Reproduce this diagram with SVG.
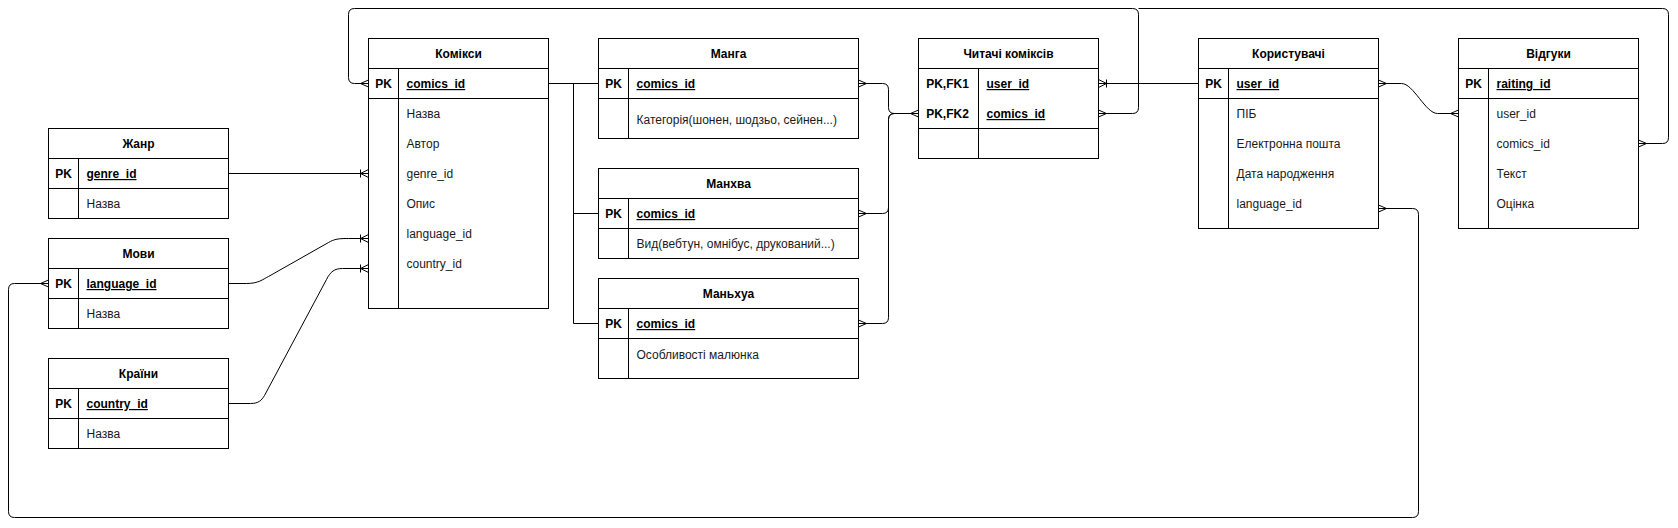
<svg xmlns="http://www.w3.org/2000/svg" width="1678" height="528" viewBox="0 0 1678 528">
<style>
.bx{fill:#fff;stroke:#000;stroke-width:1}
.sl{fill:none;stroke:#000;stroke-width:1}
.ln{fill:none;stroke:#000;stroke-width:1}
text{font-family:"Liberation Sans",Arial,Helvetica,sans-serif;font-size:12px;fill:#000}
.h{font-weight:bold;text-anchor:middle}
.k{font-weight:bold;text-anchor:middle}
.pk{font-weight:bold;text-decoration:underline}
.f{fill:#1a1a1a}
</style>
<defs>
<marker id="many" viewBox="-10 -5 12 10" refX="0" refY="0" markerWidth="12" markerHeight="10" markerUnits="userSpaceOnUse" orient="auto-start-reverse" overflow="visible">
<path d="M0,-3.5 L-8,0 L0,3.5" fill="none" stroke="#000" stroke-width="1"/>
</marker>
<marker id="oneMany" viewBox="-10 -5 12 10" refX="0" refY="0" markerWidth="12" markerHeight="10" markerUnits="userSpaceOnUse" orient="auto-start-reverse" overflow="visible">
<path d="M0,-4 L-8,0 L0,4 M-8,-4 V4" fill="none" stroke="#000" stroke-width="1"/>
</marker>
</defs>
<rect width="1678" height="528" fill="#fff"/>
<g transform="translate(0.5,0.5)">

<g id="connectors">
<path class="ln" d="M548,83 H598"/>
<path class="ln" d="M573,83 V323 M573,213 H598 M573,323 H598"/>
<path class="ln" d="M858,83 H882 Q888,83 888,89 V107 Q888,113 894,113 H918" marker-start="url(#many)" marker-end="url(#many)"/>
<path class="ln" d="M858,213 H882 Q888,213 888,207 V119 Q888,113 894,113 H918" marker-start="url(#many)"/>
<path class="ln" d="M858,323 H882 Q888,323 888,317 V119 Q888,113 894,113 H918" marker-start="url(#many)"/>
<path class="ln" d="M1098,113 H1132 Q1138,113 1138,107 V14 Q1138,8 1132,8 H354 Q348,8 348,14 V77 Q348,83 354,83 H368" marker-start="url(#many)" marker-end="url(#many)"/>
<path class="ln" d="M1638,143 H1662 Q1668,143 1668,137 V14 Q1668,8 1662,8 H1138" marker-start="url(#many)"/>
<path class="ln" d="M1098,83 H1198" marker-start="url(#oneMany)"/>
<path class="ln" d="M1378,83 H1401 C1413,83 1425,113 1437,113 H1458" marker-start="url(#many)" marker-end="url(#many)"/>
<path class="ln" d="M1378,208 H1412 Q1418,208 1418,214 V511 Q1418,517 1412,517 H14 Q8,517 8,511 V289 Q8,283 14,283 H48" marker-start="url(#many)" marker-end="url(#many)"/>
<path class="ln" d="M228,173 H368" marker-end="url(#oneMany)"/>
<path class="ln" d="M228,283 H246 C258,283 262,279 268,276 L328,242 C334,238.5 338,238 348,238 H368" marker-end="url(#oneMany)"/>
<path class="ln" d="M228,403 H250 C258,403 261,400 264,395 L326,279 C330,271 334,268 342,268 H368" marker-end="url(#oneMany)"/>
</g>

<g id="zhanr">
<rect class="bx" x="48" y="128" width="180" height="90"/>
<path class="sl" d="M48,158 H228 M48,188 H228 M78,158 V218"/>
<text class="h" x="138" y="147.5">Жанр</text>
<text class="k" x="63" y="177.5">PK</text>
<text class="pk" x="86" y="177.5">genre_id</text>
<text class="f" x="86" y="207.5">Назва</text>
</g>

<g id="movy">
<rect class="bx" x="48" y="238" width="180" height="90"/>
<path class="sl" d="M48,268 H228 M48,298 H228 M78,268 V328"/>
<text class="h" x="138" y="257.5">Мови</text>
<text class="k" x="63" y="287.5">PK</text>
<text class="pk" x="86" y="287.5">language_id</text>
<text class="f" x="86" y="317.5">Назва</text>
</g>

<g id="krainy">
<rect class="bx" x="48" y="358" width="180" height="90"/>
<path class="sl" d="M48,388 H228 M48,418 H228 M78,388 V448"/>
<text class="h" x="138" y="377.5">Країни</text>
<text class="k" x="63" y="407.5">PK</text>
<text class="pk" x="86" y="407.5">country_id</text>
<text class="f" x="86" y="437.5">Назва</text>
</g>

<g id="komiksy">
<rect class="bx" x="368" y="38" width="180" height="270"/>
<path class="sl" d="M368,68 H548 M368,98 H548 M398,68 V308"/>
<text class="h" x="458" y="57.5">Комікси</text>
<text class="k" x="383" y="87.5">PK</text>
<text class="pk" x="406" y="87.5">comics_id</text>
<text class="f" x="406" y="117.5">Назва</text>
<text class="f" x="406" y="147.5">Автор</text>
<text class="f" x="406" y="177.5">genre_id</text>
<text class="f" x="406" y="207.5">Опис</text>
<text class="f" x="406" y="237.5">language_id</text>
<text class="f" x="406" y="267.5">country_id</text>
</g>

<g id="manga">
<rect class="bx" x="598" y="38" width="260" height="100"/>
<path class="sl" d="M598,68 H858 M598,98 H858 M628,68 V138"/>
<text class="h" x="728" y="57.5">Манга</text>
<text class="k" x="613" y="87.5">PK</text>
<text class="pk" x="636" y="87.5">comics_id</text>
<text class="f" x="636" y="123">Категорія(шонен, шодзьо, сейнен...)</text>
</g>

<g id="manhva">
<rect class="bx" x="598" y="168" width="260" height="90"/>
<path class="sl" d="M598,198 H858 M598,228 H858 M628,198 V258"/>
<text class="h" x="728" y="187.5">Манхва</text>
<text class="k" x="613" y="217.5">PK</text>
<text class="pk" x="636" y="217.5">comics_id</text>
<text class="f" x="636" y="247.5">Вид(вебтун, омнібус, друкований...)</text>
</g>

<g id="manhua">
<rect class="bx" x="598" y="278" width="260" height="100"/>
<path class="sl" d="M598,308 H858 M598,338 H858 M628,308 V378"/>
<text class="h" x="728" y="297.5">Маньхуа</text>
<text class="k" x="613" y="327.5">PK</text>
<text class="pk" x="636" y="327.5">comics_id</text>
<text class="f" x="636" y="358.5">Особливості малюнка</text>
</g>

<g id="chytachi">
<rect class="bx" x="918" y="38" width="180" height="120"/>
<path class="sl" d="M918,68 H1098 M918,128 H1098 M978,68 V158"/>
<text class="h" x="1008" y="57.5">Читачі коміксів</text>
<text class="k" x="947" y="87.5">PK,FK1</text>
<text class="pk" x="986" y="87.5">user_id</text>
<text class="k" x="947" y="117.5">PK,FK2</text>
<text class="pk" x="986" y="117.5">comics_id</text>
</g>

<g id="korystuvachi">
<rect class="bx" x="1198" y="38" width="180" height="190"/>
<path class="sl" d="M1198,68 H1378 M1198,98 H1378 M1228,68 V228"/>
<text class="h" x="1288" y="57.5">Користувачі</text>
<text class="k" x="1213" y="87.5">PK</text>
<text class="pk" x="1236" y="87.5">user_id</text>
<text class="f" x="1236" y="117.5">ПІБ</text>
<text class="f" x="1236" y="147.5">Електронна пошта</text>
<text class="f" x="1236" y="177.5">Дата народження</text>
<text class="f" x="1236" y="207.5">language_id</text>
</g>

<g id="vidguky">
<rect class="bx" x="1458" y="38" width="180" height="190"/>
<path class="sl" d="M1458,68 H1638 M1458,98 H1638 M1488,68 V228"/>
<text class="h" x="1548" y="57.5">Відгуки</text>
<text class="k" x="1473" y="87.5">PK</text>
<text class="pk" x="1496" y="87.5">raiting_id</text>
<text class="f" x="1496" y="117.5">user_id</text>
<text class="f" x="1496" y="147.5">comics_id</text>
<text class="f" x="1496" y="177.5">Текст</text>
<text class="f" x="1496" y="207.5">Оцінка</text>
</g>

</g>
</svg>
